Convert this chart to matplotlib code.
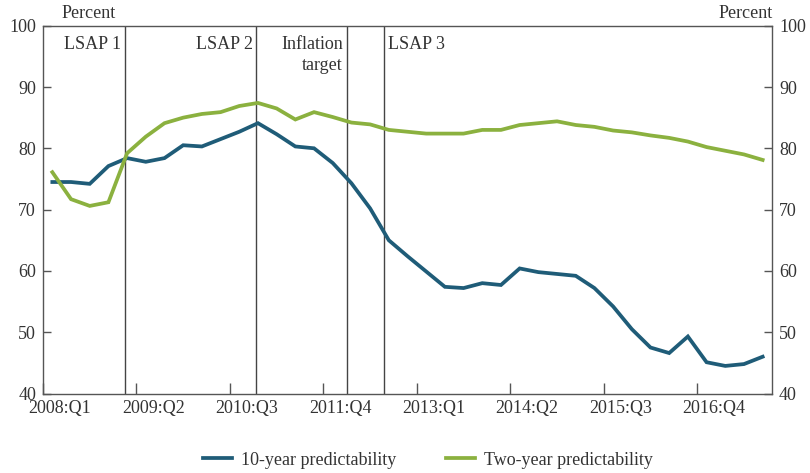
import matplotlib
matplotlib.use("Agg")
import matplotlib.pyplot as plt
from matplotlib.lines import Line2D

plt.rcParams['font.family'] = ['Liberation Serif', 'DejaVu Serif']

# Quarterly data 2008:Q1 .. 2017:Q3
start_year = 2008
n_quarters = 39
quarters = [f"{start_year + i // 4}:Q{i % 4 + 1}" for i in range(n_quarters)]

ten_year = [74.5, 74.5, 74.2, 77.1, 78.4, 77.8, 78.4, 80.5, 80.3, 81.5,
            82.7, 84.1, 82.3, 80.3, 80.0, 77.6, 74.3, 70.2, 65.0, 62.4,
            59.9, 57.4, 57.2, 58.0, 57.7, 60.4, 59.8, 59.5, 59.2, 57.2,
            54.2, 50.5, 47.5, 46.6, 49.3, 45.1, 44.5, 44.8, 46.0]

two_year = [76.1, 71.7, 70.6, 71.2, 79.2, 81.9, 84.1, 85.0, 85.6, 85.9,
            86.9, 87.4, 86.5, 84.7, 85.9, 85.1, 84.2, 83.9, 83.0, 82.7,
            82.4, 82.4, 82.4, 83.0, 83.0, 83.8, 84.1, 84.4, 83.8, 83.5,
            82.9, 82.6, 82.1, 81.7, 81.1, 80.2, 79.6, 79.0, 78.1]

# Policy events (position in quarter index units)
event_labels = ["LSAP 1", "LSAP 2", "Inflation\ntarget", "LSAP 3"]
event_pos = [3.89, 10.91, 15.75, 17.75]
event_side = ["left", "left", "left", "right"]

label_every = 5
y_ticks = [40, 50, 60, 70, 80, 90, 100]

blue = "#1f5c78"
green = "#8bb13f"
txt = "#333333"
spine_c = "#555555"
fs = 13

fig = plt.figure(figsize=(8.1, 4.73), dpi=100)
ax = fig.add_axes([43 / 810, 1 - 393.5 / 473, (772 - 43) / 810, (393.5 - 25.7) / 473])

x = list(range(n_quarters))
ax.plot(x, ten_year, color=blue, lw=2.7, solid_joinstyle='miter', zorder=3)
ax.plot(x, two_year, color=green, lw=2.7, solid_joinstyle='miter', zorder=3)

for lab, pos, side in zip(event_labels, event_pos, event_side):
    ax.axvline(pos, color="#444444", lw=1.0, zorder=2)
    if side == "left":
        ax.text(pos - 0.2, 98.3, lab, ha='right', va='top', fontsize=fs,
                color=txt, linespacing=1.3)
    else:
        ax.text(pos + 0.2, 98.3, lab, ha='left', va='top', fontsize=fs,
                color=txt, linespacing=1.3)

ax.set_xlim(-0.5, n_quarters - 0.5)
ax.set_ylim(40, 100)

# x ticks at quarter boundaries, labels near quarter centre
tick_idx = list(range(0, n_quarters, label_every))
ax.set_xticks([i - 0.5 for i in tick_idx])
ax.set_xticklabels([])
ax.set_xticks([i + 0.4 for i in tick_idx], minor=True)
ax.set_xticklabels([quarters[i] for i in tick_idx], minor=True)
ax.tick_params(axis='x', which='major', direction='in', length=8, width=1, color=spine_c)
ax.tick_params(axis='x', which='minor', length=0, pad=5, labelsize=fs, labelcolor=txt)

ax.set_yticks(y_ticks)
ax.tick_params(axis='y', which='major', direction='in', length=6, width=1, color=spine_c,
               labelsize=fs, labelcolor=txt, left=True, right=True,
               labelleft=True, labelright=True, pad=5)

for s in ax.spines.values():
    s.set_color(spine_c)
    s.set_linewidth(1.0)

fig.text(62 / 810, 1 - 13 / 473, "Percent", ha='left', va='center', fontsize=fs, color=txt)
fig.text(773 / 810, 1 - 13 / 473, "Percent", ha='right', va='center', fontsize=fs, color=txt)

handles = [Line2D([0], [0], color=blue, lw=2.7),
           Line2D([0], [0], color=green, lw=2.7)]
fig.legend(handles, ["10-year predictability", "Two-year predictability"],
           loc='center', bbox_to_anchor=(428 / 810, 1 - 460 / 473), ncol=2,
           frameon=False, fontsize=fs, handlelength=1.6, handletextpad=0.5,
           columnspacing=2.8, labelcolor=txt)

fig.savefig("out.png", dpi=100)
